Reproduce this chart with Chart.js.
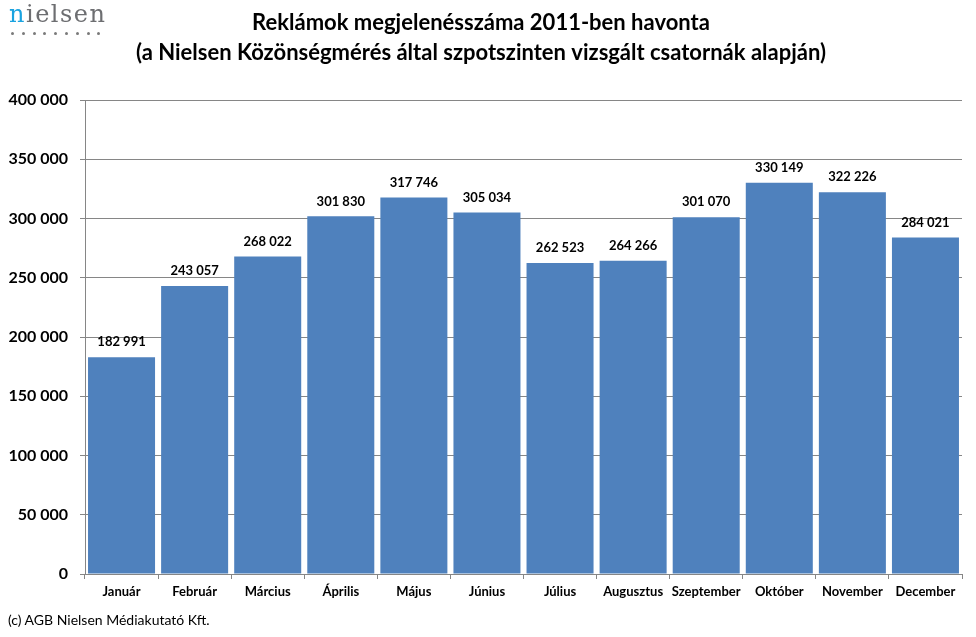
<!DOCTYPE html>
<html>
<head>
<meta charset="utf-8">
<script src="https://cdn.jsdelivr.net/npm/chart.js@4.4.1/dist/chart.umd.min.js"></script>
<style>
  html, body { margin: 0; padding: 0; background: #fff; }
  #wrap { position: relative; width: 976px; height: 637px; }
  #logo { position: absolute; left: 9px; top: 2px; font-family: "DejaVu Serif", serif; font-size: 24px; line-height: 24px; color: #6d6e71; letter-spacing: 1.5px; }
  #logo span { color: #1aa3e0; }
  #dots { position: absolute; left: 11px; top: 32px; display: flex; gap: 7.8px; }
  #dots i { display: block; width: 3px; height: 3px; border-radius: 50%; background: #7a7a7a; }
  #footer { position: absolute; left: 8px; top: 611px; font-family: Lato, sans-serif; font-size: 14px; color: #000; }
</style>
</head>
<body>
<div id="wrap">
  <canvas id="chart" width="976" height="637"></canvas>
  <div id="logo"><span>n</span>ielsen</div>
  <div id="dots"><i></i><i></i><i></i><i></i><i></i><i></i><i></i><i></i><i></i></div>
  <div id="footer">(c) AGB Nielsen Médiakutató Kft.</div>
</div>
<script>
let months = ["Január", "Február", "Március", "Április", "Május", "Június", "Július", "Augusztus", "Szeptember", "Október", "November", "December"];
let spots = [182991, 243057, 268022, 301830, 317746, 305034, 262523, 264266, 301070, 330149, 322226, 284021];
let titleLines = ["Reklámok megjelenésszáma 2011-ben havonta", "(a Nielsen Közönségmérés által szpotszinten vizsgált csatornák alapján)"];

function fmt(v) {
    return String(v).replace(/\B(?=(\d{3})+(?!\d))/g, " ");
}

// value labels above each bar
let barLabels = {
    id: "barLabels",
    afterDatasetsDraw(chart) {
        let ctx = chart.ctx;
        let meta = chart.getDatasetMeta(0);
        ctx.save();
        ctx.font = "bold 13px Lato, sans-serif";
        ctx.fillStyle = "#000";
        ctx.textAlign = "center";
        ctx.textBaseline = "middle";
        meta.data.forEach((bar, i) => {
            ctx.fillText(fmt(spots[i]), bar.x, bar.y - 15);
        });
        ctx.restore();
    }
};

let ctx = document.getElementById("chart").getContext("2d");
let chart = new Chart(ctx, {
    type: "bar",
    data: {
        labels: months,
        datasets: [{
            data: spots,
            backgroundColor: "#4F81BD",
            barPercentage: 1,
            categoryPercentage: 0.917
        }]
    },
    options: {
        responsive: false,
        animation: false,
        layout: { padding: { left: 0, right: 14, top: 0, bottom: 0 } },
        plugins: {
            legend: { display: false },
            tooltip: { enabled: false },
            title: {
                display: true,
                text: titleLines,
                color: "#000",
                font: { family: "Lato, sans-serif", size: 22, weight: "bold", lineHeight: 30 / 22 },
                padding: { top: 8, bottom: 32 }
            }
        },
        scales: {
            x: {
                grid: { display: true, drawOnChartArea: false, offset: true, tickLength: 5, color: "#868686" },
                border: { color: "#868686" },
                ticks: { color: "#000", font: { family: "Lato, sans-serif", size: 13, weight: "bold" }, padding: 5, maxRotation: 0 },
                afterFit(scale) { scale.height = 63; }
            },
            y: {
                min: 0,
                max: 400000,
                ticks: {
                    stepSize: 50000,
                    color: "#000",
                    padding: 12,
                    font: { family: "Lato, sans-serif", size: 16, weight: "bold" },
                    callback: (v) => fmt(v)
                },
                grid: { color: "#868686", tickLength: 5 },
                border: { color: "#868686" },
                afterFit(scale) { scale.width = 85; }
            }
        }
    },
    plugins: [barLabels]
});
</script>
</body>
</html>
